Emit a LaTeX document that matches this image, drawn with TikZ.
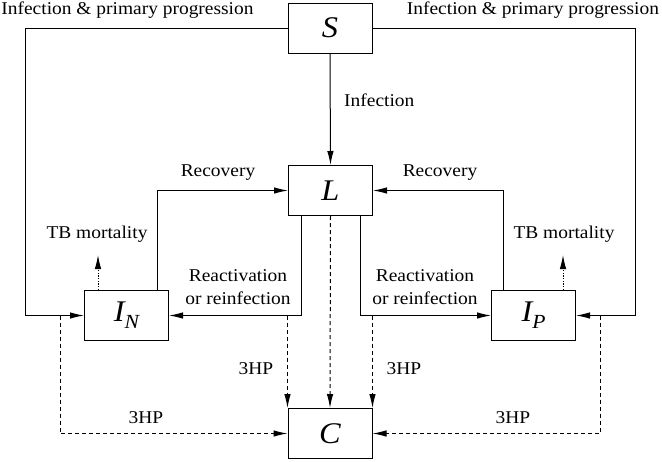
\documentclass[tikz,border=0pt]{standalone}
\usepackage{fontspec}
\setmainfont[FakeStretch=1.08]{Liberation Serif}
\usetikzlibrary{arrows.meta}
\newcommand\subsc[1]{\raisebox{-7pt}{\fontsize{20}{20}\selectfont #1}}
\begin{document}
\begin{tikzpicture}[x=1pt,y=-1pt,
  box/.style={draw,line width=1pt,minimum width=84pt,minimum height=50pt,inner sep=0pt,
    font=\fontsize{30}{30}\selectfont\itshape},
  flow/.style={line width=1pt,-{Latex[length=14pt,width=6.5pt]}},
  tflow/.style={flow,dash pattern=on 4pt off 3pt},
  dflow/.style={flow,dash pattern=on 1.2pt off 1.5pt},
  lbl/.style={font=\fontsize{18}{23}\selectfont,inner sep=0pt,align=center}]
\useasboundingbox (0,0) rectangle (662,461);
% compartments
\node[box] (S) at (330,28) {S};
\node[box] (L) at (330.5,190.5) {L};
\node[box] (C) at (330,433.5) {C};
\node[box] (IN) at (126.5,315.5) {I\subsc{N}};
\node[box] (IP) at (533.5,315.5) {I\subsc{P}};
% corner points
\coordinate (tl) at (25,28);
\coordinate (tr) at (635,28);
\coordinate (mN) at (98,255);
\coordinate (mP) at (563,255);
\coordinate (bl) at (60,315.5);
\coordinate (br) at (600,315.5);
\coordinate (dl) at (C.north west |- IN.east);
\coordinate (dr) at (C.north east |- IP.west);
% infection & primary progression
\draw[flow] (S.west) -- (tl) |- (IN.west);
\draw[flow] (S.east) -- (tr) |- (IP.east);
\node[lbl] (lpl) at (127.5,10) {Infection \& primary progression};
\node[lbl] (lpr) at (533,10) {Infection \& primary progression};
% infection
\draw[flow] (S.south) -- (L.north);
\node[lbl,anchor=west] (linf) at (344,100) {Infection};
% recovery
\draw[flow] ([xshift=30.5pt]IN.north) |- (L.west);
\draw[flow] ([xshift=-30.5pt]IP.north) |- (L.east);
\node[lbl] (lrecl) at (218,173) {Recovery};
\node[lbl] (lrecr) at (440,173) {Recovery};
% TB mortality
\draw[dflow] ([xshift=-28.5pt]IN.north) -- (mN);
\draw[dflow] ([xshift=29.5pt]IP.north) -- (mP);
\node[lbl] (lmN) at (97,234) {TB mortality};
\node[lbl] (lmP) at (564,234) {TB mortality};
% reactivation
\draw[flow] ([xshift=-29.5pt]L.south) |- (IN.east);
\draw[flow] ([xshift=29.5pt]L.south) |- (IP.west);
\node[lbl] (lrel) at (238,287) {Reactivation\\or reinfection};
\node[lbl] (lrer) at (425,287) {Reactivation\\or reinfection};
% 3HP
\draw[tflow] (L.south) -- (C.north);
\draw[tflow] (dl) -- (C.north west);
\draw[tflow] (dr) -- (C.north east);
\draw[tflow] (bl) |- (C.west);
\draw[tflow] (br) |- (C.east);
\node[lbl] (h1) at (256,369) {3HP};
\node[lbl] (h2) at (404,369) {3HP};
\node[lbl] (h3) at (146,418) {3HP};
\node[lbl] (h4) at (513,418) {3HP};
\end{tikzpicture}
\end{document}
